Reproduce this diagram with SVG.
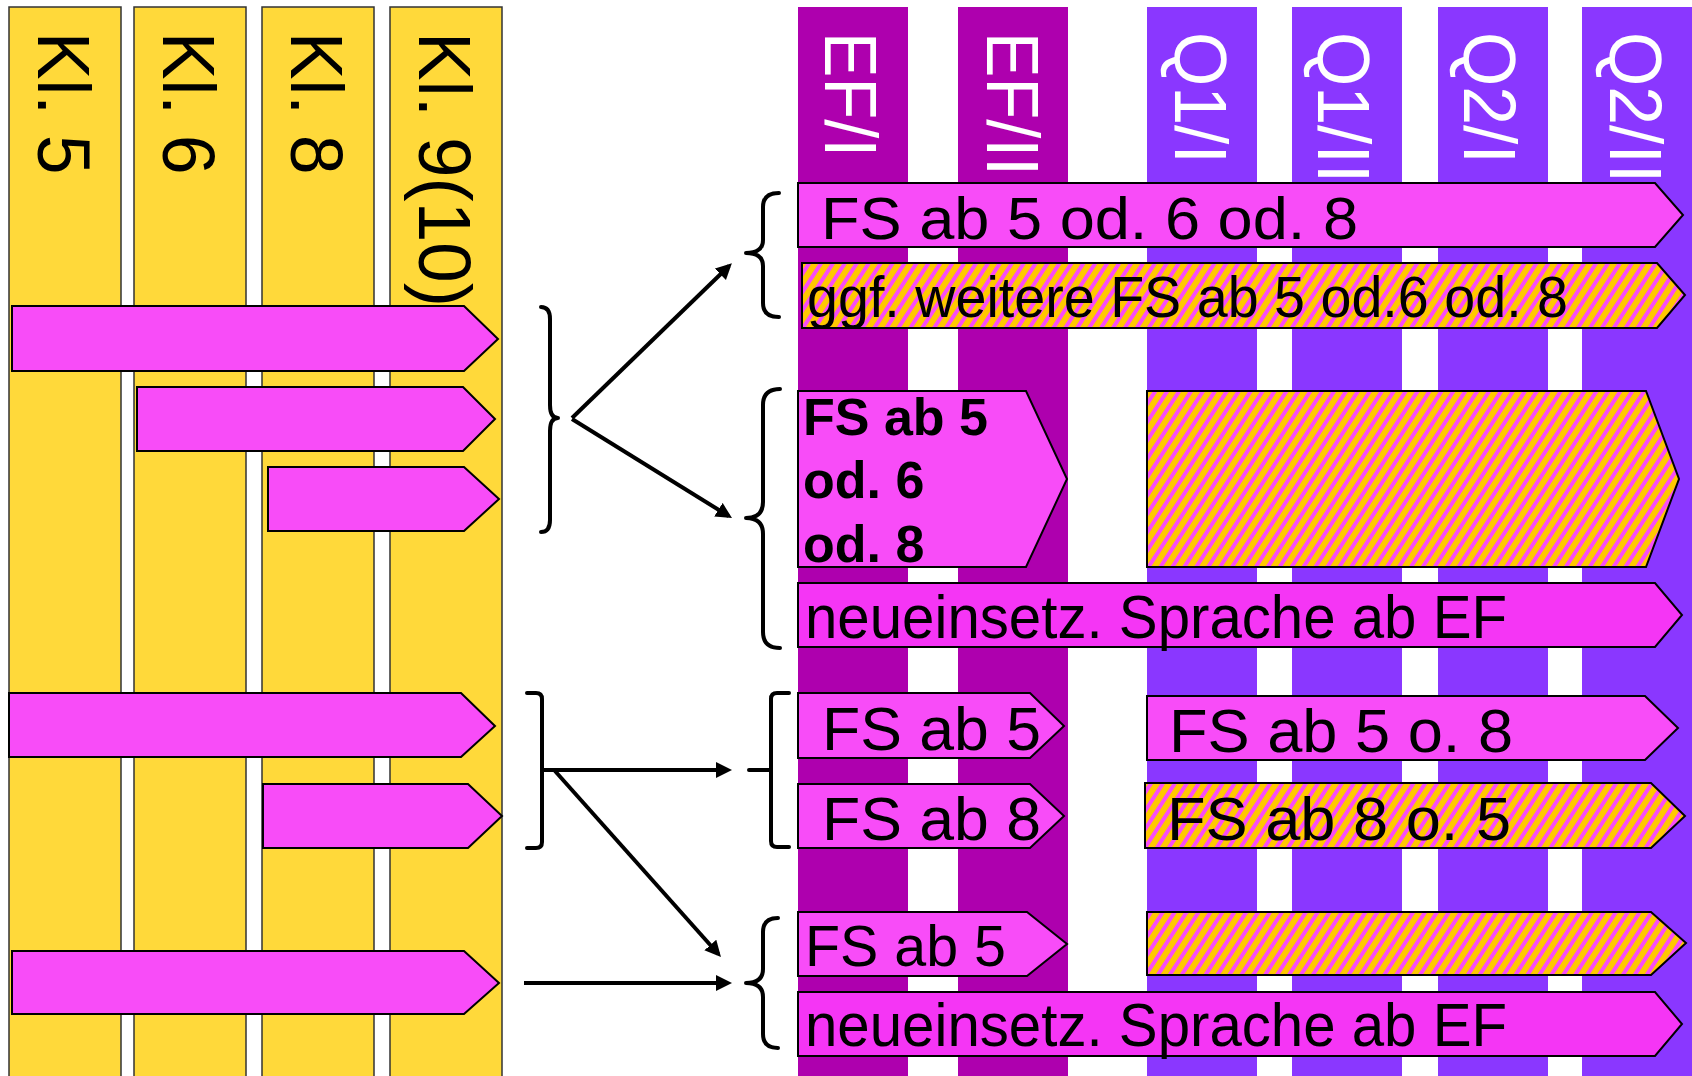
<svg xmlns="http://www.w3.org/2000/svg" width="1692" height="1076" viewBox="0 0 1692 1076">
<style>
.col{fill:#FFD93A;stroke:#333;stroke-width:1.5}
.ef{fill:#AE00AE}
.q{fill:#8A37FF}
.lbl{font-family:"Liberation Sans",Arial,sans-serif;font-size:75px}
.wl{fill:#fff}
.bar{fill:#F84CF8;stroke:#000;stroke-width:2}
.bar2{fill:#F535F5;stroke:#000;stroke-width:2}
.hat{fill:url(#hatch);stroke:#000;stroke-width:2}
.t{font-family:"Liberation Sans",Arial,sans-serif;fill:#000}
.b{font-weight:bold;font-size:52px}
.br{fill:none;stroke:#000;stroke-width:4;stroke-linecap:round;stroke-linejoin:round}
.ar{fill:none;stroke:#000;stroke-width:4;marker-end:url(#ah)}
</style>
<defs>
<pattern id="hatch" patternUnits="userSpaceOnUse" width="10" height="10" patternTransform="rotate(33)">
<rect width="10" height="10" fill="#FFC800" shape-rendering="crispEdges"/>
<rect width="3.8" height="10" fill="#F84CF8" shape-rendering="crispEdges"/>
</pattern>
<marker id="ah" markerUnits="userSpaceOnUse" markerWidth="18" markerHeight="18" refX="12" refY="8" orient="auto">
<path d="M0,0 L16,8 L0,16 z" fill="#000"/>
</marker>
</defs>
<rect width="1692" height="1076" fill="#fff"/>

<g id="columns-left">
<g id="kl5"><rect class="col" x="9" y="7" width="112" height="1075"/><text class="lbl" transform="translate(38,32) rotate(90) scale(0.95,1)">Kl. 5</text></g>
<g id="kl6"><rect class="col" x="134" y="7" width="112" height="1075"/><text class="lbl" transform="translate(163,32) rotate(90) scale(0.95,1)">Kl. 6</text></g>
<g id="kl8"><rect class="col" x="262" y="7" width="112" height="1075"/><text class="lbl" transform="translate(291,32) rotate(90) scale(0.95,1)">Kl. 8</text></g>
<g id="kl9"><rect class="col" x="390" y="7" width="112" height="1075"/><text class="lbl" transform="translate(419,32) rotate(90) scale(0.97,1)">Kl. 9(10)</text></g>
</g>

<g id="columns-right">
<g id="ef1"><rect class="ef" x="798" y="7" width="110" height="1069"/><text class="lbl wl" transform="translate(825,32) rotate(90) scale(0.91,1)">EF/I</text></g>
<g id="ef2"><rect class="ef" x="958" y="7" width="110" height="1069"/><text class="lbl wl" transform="translate(987,32) rotate(90) scale(0.91,1)">EF/II</text></g>
<g id="q11"><rect class="q" x="1147" y="7" width="110" height="1069"/><text class="lbl wl" transform="translate(1175,32) rotate(90) scale(0.93,1)">Q1/I</text></g>
<g id="q12"><rect class="q" x="1292" y="7" width="110" height="1069"/><text class="lbl wl" transform="translate(1318,32) rotate(90) scale(0.93,1)">Q1/II</text></g>
<g id="q21"><rect class="q" x="1438" y="7" width="110" height="1069"/><text class="lbl wl" transform="translate(1464,32) rotate(90) scale(0.93,1)">Q2/I</text></g>
<g id="q22"><rect class="q" x="1582" y="7" width="110" height="1069"/><text class="lbl wl" transform="translate(1610,32) rotate(90) scale(0.93,1)">Q2/II</text></g>
</g>

<g id="left-bars">
<g id="la"><polygon class="bar" points="12,306 464,306 498,339 464,371 12,371"/></g>
<g id="lb"><polygon class="bar" points="137,387 463,387 495,419 463,451 137,451"/></g>
<g id="lc"><polygon class="bar" points="268,467 464,467 499,499 464,531 268,531"/></g>
<g id="ld"><polygon class="bar" points="9,693 461,693 495,726 461,757 9,757"/></g>
<g id="le"><polygon class="bar" points="263,784 468,784 502,816 468,848 263,848"/></g>
<g id="lf"><polygon class="bar" points="12,951 464,951 499,983 464,1014 12,1014"/></g>
</g>

<g id="right-bars">
<g id="r1"><polygon class="bar" points="798,183 1655,183 1683,215 1655,247 798,247"/><text class="t" x="821" y="239" font-size="60" textLength="537" lengthAdjust="spacingAndGlyphs">FS ab 5 od. 6 od. 8</text></g>
<g id="r2"><polygon class="hat" points="802,263 1657,263 1685,295 1657,328 802,328"/><text class="t" x="807" y="317" font-size="58" textLength="761" lengthAdjust="spacingAndGlyphs">ggf. weitere FS ab 5 od.6 od. 8</text></g>
<g id="r3"><polygon class="bar" points="798,391 1026,391 1067,479 1026,567 798,567"/><text class="t b" x="803" y="435">FS ab 5</text><text class="t b" x="803" y="498">od. 6</text><text class="t b" x="803" y="562">od. 8</text></g>
<g id="r4"><polygon class="hat" points="1147,391 1646,391 1679,479 1646,567 1147,567"/></g>
<g id="r5"><polygon class="bar2" points="798,583 1655,583 1682,615 1655,647 798,647"/><text class="t" x="805" y="638" font-size="61" textLength="702" lengthAdjust="spacingAndGlyphs">neueinsetz. Sprache ab EF</text></g>
<g id="r6"><polygon class="bar" points="798,693 1030,693 1064,726 1030,758 798,758"/><text class="t" x="822" y="750" font-size="62" textLength="219" lengthAdjust="spacingAndGlyphs">FS ab 5</text></g>
<g id="r7"><polygon class="bar" points="1147,696 1645,696 1678,728 1645,760 1147,760"/><text class="t" x="1169" y="752" font-size="62" textLength="344" lengthAdjust="spacingAndGlyphs">FS ab 5 o. 8</text></g>
<g id="r8"><polygon class="bar" points="798,784 1030,784 1064,816 1030,848 798,848"/><text class="t" x="822" y="840" font-size="62" textLength="219" lengthAdjust="spacingAndGlyphs">FS ab 8</text></g>
<g id="r9"><polygon class="hat" points="1145,783 1651,783 1685,816 1651,848 1145,848"/><text class="t" x="1167" y="840" font-size="62" textLength="344" lengthAdjust="spacingAndGlyphs">FS ab 8 o. 5</text></g>
<g id="r10"><polygon class="bar" points="798,912 1027,912 1067,944 1027,976 798,976"/><text class="t" x="805" y="966" font-size="58" textLength="201" lengthAdjust="spacingAndGlyphs">FS ab 5</text></g>
<g id="r11"><polygon class="hat" points="1147,912 1651,912 1686,943 1651,975 1147,975"/></g>
<g id="r12"><polygon class="bar2" points="798,992 1655,992 1682,1024 1655,1056 798,1056"/><text class="t" x="805" y="1046" font-size="61" textLength="702" lengthAdjust="spacingAndGlyphs">neueinsetz. Sprache ab EF</text></g>
</g>

<g id="braces">
<path class="br" d="M541,307 Q550,307 550,319 L550,405 Q550,418 558,418 Q550,418 550,431 L550,520 Q550,532 541,532"/>
<path class="br" d="M527,693 L536,693 Q542,693 542,699 L542,842 Q542,848 536,848 L527,848"/>
<path class="br" d="M779,193 Q763,193 763,207 L763,240 Q763,253 746,253 Q763,253 763,266 L763,303 Q763,317 779,317"/>
<path class="br" d="M780,389 Q763,389 763,405 L763,502 Q763,518 746,518 Q763,518 763,534 L763,632 Q763,648 780,648"/>
<path class="br" d="M789,693 L777,693 Q771,693 771,699 L771,841 Q771,847 777,847 L789,847 M771,770 L749,770"/>
<path class="br" d="M778,918 Q763,918 763,932 L763,969 Q763,983 746,983 Q763,983 763,997 L763,1034 Q763,1048 778,1048"/>
</g>

<g id="connectors">
<line class="ar" x1="572" y1="418" x2="729" y2="266"/>
<line class="ar" x1="572" y1="419" x2="728.6" y2="516"/>
<line class="ar" x1="542" y1="770" x2="728" y2="770"/>
<line class="ar" x1="555" y1="771" x2="718.3" y2="954"/>
<line class="ar" x1="524" y1="983" x2="728" y2="983"/>
</g>
</svg>
